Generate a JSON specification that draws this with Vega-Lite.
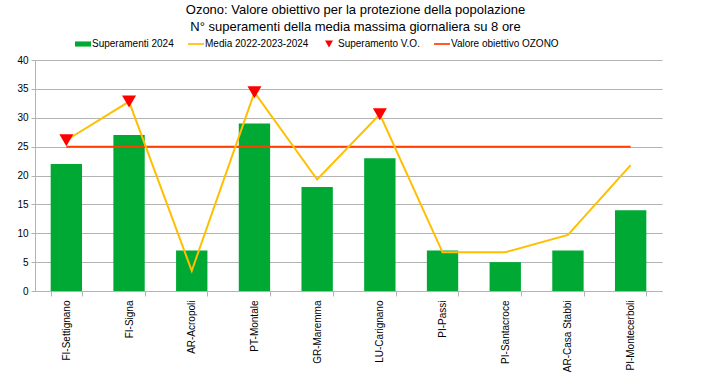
{
  "$schema": "https://vega.github.io/schema/vega-lite/v6.json",
  "width": 627,
  "height": 231,
  "autosize": {"type": "none"},
  "padding": {"left": 35, "top": 60, "right": 53, "bottom": 86},
  "background": "white",
  "config": {
    "font": "Liberation Sans",
    "view": {"stroke": null},
    "axis": {"labelFont": "Liberation Sans", "labelColor": "#000000", "labelFontSize": 10, "domainColor": "#b3b3b3", "tickColor": "#b3b3b3", "gridColor": "#b3b3b3", "title": null}
  },
  "title": {
    "text": ["Ozono: Valore obiettivo per la protezione della popolazione", "N° superamenti della media massima giornaliera su 8 ore"],
    "font": "Liberation Sans",
    "fontSize": 13,
    "fontWeight": "normal",
    "color": "#000000",
    "anchor": "middle",
    "lineHeight": 17,
    "offset": 4,
    "dx": 7
  },
  "data": {
    "values": [
      {"stazione": "FI-Settignano", "sup": 22, "media": 26.1},
      {"stazione": "FI-Signa", "sup": 27, "media": 32.8},
      {"stazione": "AR-Acropoli", "sup": 7, "media": 3.5},
      {"stazione": "PT-Montale", "sup": 29, "media": 34.4},
      {"stazione": "GR-Maremma", "sup": 18, "media": 19.3},
      {"stazione": "LU-Carignano", "sup": 23, "media": 30.6},
      {"stazione": "PI-Passi", "sup": 7, "media": 6.7},
      {"stazione": "PI-Santacroce", "sup": 5, "media": 6.7},
      {"stazione": "AR-Casa Stabbi", "sup": 7, "media": 9.7},
      {"stazione": "PI-Montecerboli", "sup": 14, "media": 21.8}
    ]
  },
  "encoding": {
    "x": {
      "field": "stazione", "type": "nominal", "sort": null,
      "scale": {"paddingInner": 0.5, "paddingOuter": 0.25},
      "axis": {"labelAngle": -90, "tickBand": "extent", "tickSize": 5, "grid": false, "labelPadding": 4}
    }
  },
  "layer": [
    {
      "mark": {"type": "bar", "color": "#00a933"},
      "encoding": {
        "y": {"field": "sup", "type": "quantitative", "scale": {"domain": [0, 40]},
          "axis": {"values": [0,5,10,15,20,25,30,35,40], "labelOverlap": false, "tickSize": 4, "labelPadding": 3, "grid": true}},
        "color": {"datum": "Superamenti 2024", "type": "nominal",
          "scale": {"domain": ["Superamenti 2024", "Media 2022-2023-2024", "Superamento V.O.", "Valore obiettivo OZONO"],
                    "range": ["#00a933", "#ffbf00", "#ff0000", "#ff4000"]},
          "legend": {"title": null, "orient": "none", "legendX": 42, "legendY": -22, "direction": "horizontal",
            "labelFont": "Liberation Sans", "labelFontSize": 10, "labelColor": "#000000", "columnPadding": 14, "symbolSize": 130, "symbolStrokeWidth": 0, "labelOffset": 3}}
      }
    },
    {
      "mark": {"type": "line", "color": "#ff4000", "strokeWidth": 2},
      "encoding": {
        "y": {"datum": 25, "scale": {"domain": [0, 40]},
          "axis": {"values": [0,5,10,15,20,25,30,35,40], "labelOverlap": false, "tickSize": 4, "labelPadding": 3, "grid": true}},
        "color": {"datum": "Valore obiettivo OZONO", "type": "nominal"}
      }
    },
    {
      "mark": {"type": "line", "strokeWidth": 2},
      "encoding": {
        "y": {"field": "media", "type": "quantitative", "scale": {"domain": [0, 40]},
          "axis": {"values": [0,5,10,15,20,25,30,35,40], "labelOverlap": false, "tickSize": 4, "labelPadding": 3, "grid": true}},
        "color": {"datum": "Media 2022-2023-2024", "type": "nominal"}
      }
    },
    {
      "transform": [{"filter": "datum.media > 25"}],
      "mark": {"type": "point", "filled": true, "size": 400, "opacity": 1},
      "encoding": {
        "y": {"field": "media", "type": "quantitative", "scale": {"domain": [0, 40]},
          "axis": {"values": [0,5,10,15,20,25,30,35,40], "labelOverlap": false, "tickSize": 4, "labelPadding": 3, "grid": true}},
        "color": {"datum": "Superamento V.O.", "type": "nominal"},
        "shape": {"datum": "Superamento V.O.", "type": "nominal",
          "scale": {"domain": ["Superamenti 2024", "Media 2022-2023-2024", "Superamento V.O.", "Valore obiettivo OZONO"],
                    "range": ["M-1.4,-0.45L1.4,-0.45L1.4,0.45L-1.4,0.45Z", "M-1.4,-0.15L1.4,-0.15L1.4,0.15L-1.4,0.15Z", "M-0.7,-0.6L0.7,-0.6L0,0.6Z", "M-1.4,-0.15L1.4,-0.15L1.4,0.15L-1.4,0.15Z"]},
          "legend": {"title": null, "orient": "none", "legendX": 42, "legendY": -22, "direction": "horizontal",
            "labelFont": "Liberation Sans", "labelFontSize": 10, "labelColor": "#000000", "columnPadding": 14, "symbolSize": 130, "symbolStrokeWidth": 0, "labelOffset": 3}}
      }
    }
  ]
}
